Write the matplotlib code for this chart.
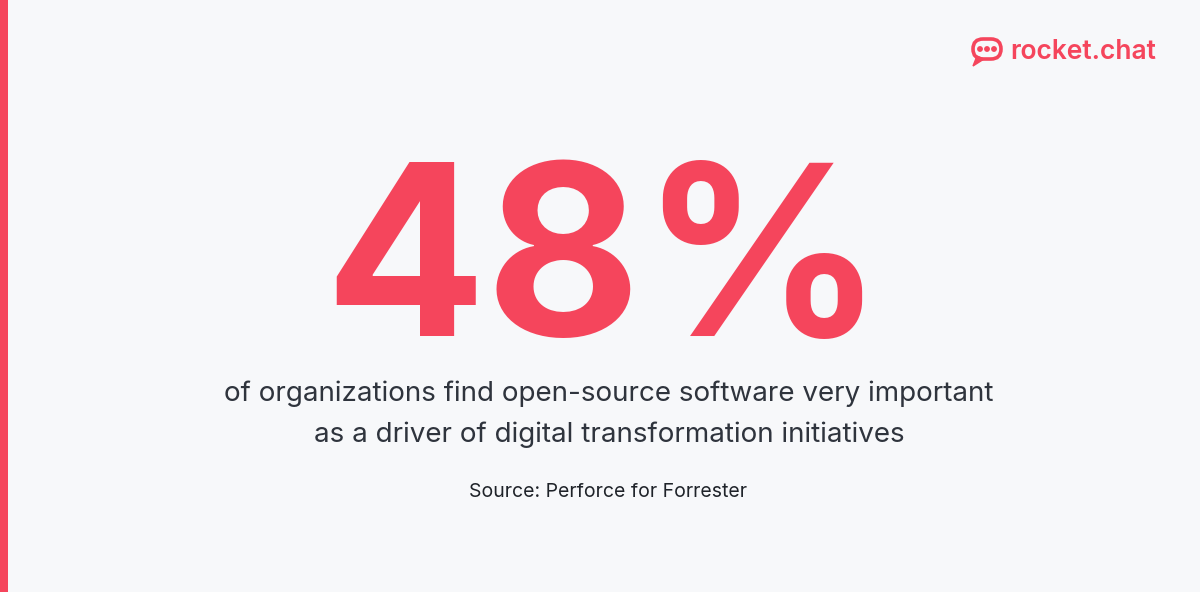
import matplotlib
matplotlib.use("Agg")
import matplotlib.pyplot as plt
from matplotlib.patches import Rectangle, FancyBboxPatch, Circle, Polygon

stat_value = [48]
headline_lines = ["of organizations find open-source software very important",
                  "as a driver of digital transformation initiatives"]
source_text = ["Source: Perforce for Forrester"]
brand = ["rocket.chat"]

RED = "#f5455c"
BG = "#f7f8fa"
W, H = 1200, 592

fig = plt.figure(figsize=(12, 5.92), dpi=100, facecolor=BG)
ax = fig.add_axes([0, 0, 1, 1])
ax.set_xlim(0, W); ax.set_ylim(H, 0); ax.axis("off")
ax.set_facecolor(BG)

ax.add_patch(Rectangle((0, 0), 8, H, color=RED, lw=0))

ax.text(604, 336, f"{stat_value[0]}%", fontsize=172, fontweight="bold",
        family="Inter", color=RED, ha="center", va="baseline")
for i, line in enumerate(headline_lines):
    ax.text(609, 401 + i * 41, line, fontsize=20, family="Inter",
            color="#2f343d", ha="center", va="baseline")
ax.text(608, 497, source_text[0], fontsize=14, family="Inter",
        color="#1f2329", ha="center", va="baseline")

# logo
ax.add_patch(FancyBboxPatch((973, 39), 28, 20, boxstyle="round,pad=0,rounding_size=10",
                            fc="none", ec=RED, lw=2.6))
ax.add_patch(Polygon([[977, 56], [973, 66], [984, 59]], closed=True, fc=RED, ec=RED))
for cx in (980, 987, 994):
    ax.add_patch(Circle((cx, 49), 2.2, color=RED))
ax.text(1010, 59, brand[0], fontsize=19, family="Inter", fontweight="semibold",
        color=RED, ha="left", va="baseline")

fig.savefig("out.png", dpi=100, facecolor=BG)
